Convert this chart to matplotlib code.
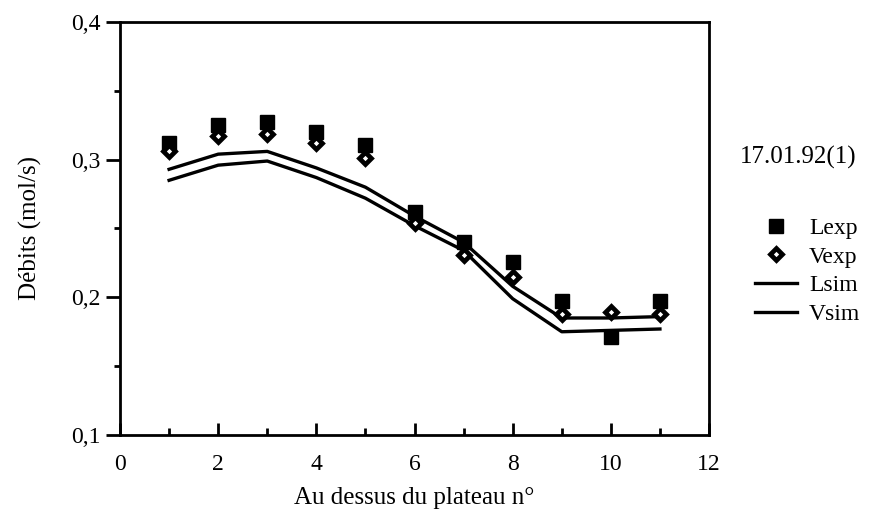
import matplotlib
matplotlib.use("Agg")
import matplotlib.pyplot as plt
from matplotlib.ticker import MultipleLocator, FuncFormatter

plt.rcParams['font.family'] = ['Liberation Serif', 'DejaVu Serif']

# Plate numbers and flow rates (mol/s)
plates = [1, 2, 3, 4, 5, 6, 7, 8, 9, 10, 11]
l_exp = [0.312, 0.325, 0.327, 0.320, 0.311, 0.262, 0.240, 0.226, 0.197, 0.171, 0.197]
v_exp = [0.306, 0.317, 0.319, 0.312, 0.301, 0.254, 0.231, 0.215, 0.188, 0.189, 0.188]
l_sim = [0.293, 0.304, 0.306, 0.294, 0.280, 0.259, 0.240, 0.208, 0.185, 0.185, 0.186]
v_sim = [0.285, 0.296, 0.299, 0.287, 0.272, 0.252, 0.234, 0.199, 0.175, 0.176, 0.177]

run_label = "17.01.92(1)"
x_label = "Au dessus du plateau n°"
y_label = "Débits (mol/s)"

fig = plt.figure(figsize=(8.69, 5.14), dpi=100)
ax = fig.add_axes([0.1381, 0.1537, 0.6778, 0.8035])

ax.plot(plates, l_sim, color='black', lw=2.4, label='Lsim', zorder=2)
ax.plot(plates, v_sim, color='black', lw=2.4, label='Vsim', zorder=2)
ax.plot(plates, l_exp, ls='none', marker='s', ms=10, color='black',
        label='Lexp', zorder=3)
ax.plot(plates, v_exp, ls='none', marker='D', ms=6.5, mfc='white',
        mec='black', mew=3.4, label='Vexp', zorder=4)

ax.set_xlim(0, 12)
ax.set_ylim(0.1, 0.4)
ax.xaxis.set_major_locator(MultipleLocator(2))
ax.xaxis.set_minor_locator(MultipleLocator(1))
ax.yaxis.set_major_locator(MultipleLocator(0.1))
ax.yaxis.set_minor_locator(MultipleLocator(0.05))
ax.yaxis.set_major_formatter(FuncFormatter(lambda v, p: f"{v:.1f}".replace('.', ',')))

for s in ax.spines.values():
    s.set_linewidth(2.0)
ax.tick_params(axis='x', which='major', direction='in', length=9, width=2,
               labelsize=17, pad=14)
ax.tick_params(axis='x', which='minor', direction='in', length=5, width=2)
ax.tick_params(axis='y', which='major', direction='out', length=10, width=2,
               labelsize=17, pad=4)
ax.tick_params(axis='y', which='minor', direction='out', length=4, width=2)

ax.set_xlabel(x_label, fontsize=18, labelpad=8)
ax.set_ylabel(y_label, fontsize=18, labelpad=21)

fig.text(0.918, 0.693, run_label, fontsize=18, ha='center', va='center')

handles, labels = ax.get_legend_handles_labels()
order = [2, 3, 0, 1]
leg = ax.legend([handles[i] for i in order], [labels[i] for i in order],
                loc='upper left', bbox_to_anchor=(0.855, 0.6),
                bbox_transform=fig.transFigure, frameon=False, fontsize=17,
                handlelength=1.8, handletextpad=0.5, labelspacing=0.3,
                borderpad=0)

fig.savefig("out.png", dpi=100)
